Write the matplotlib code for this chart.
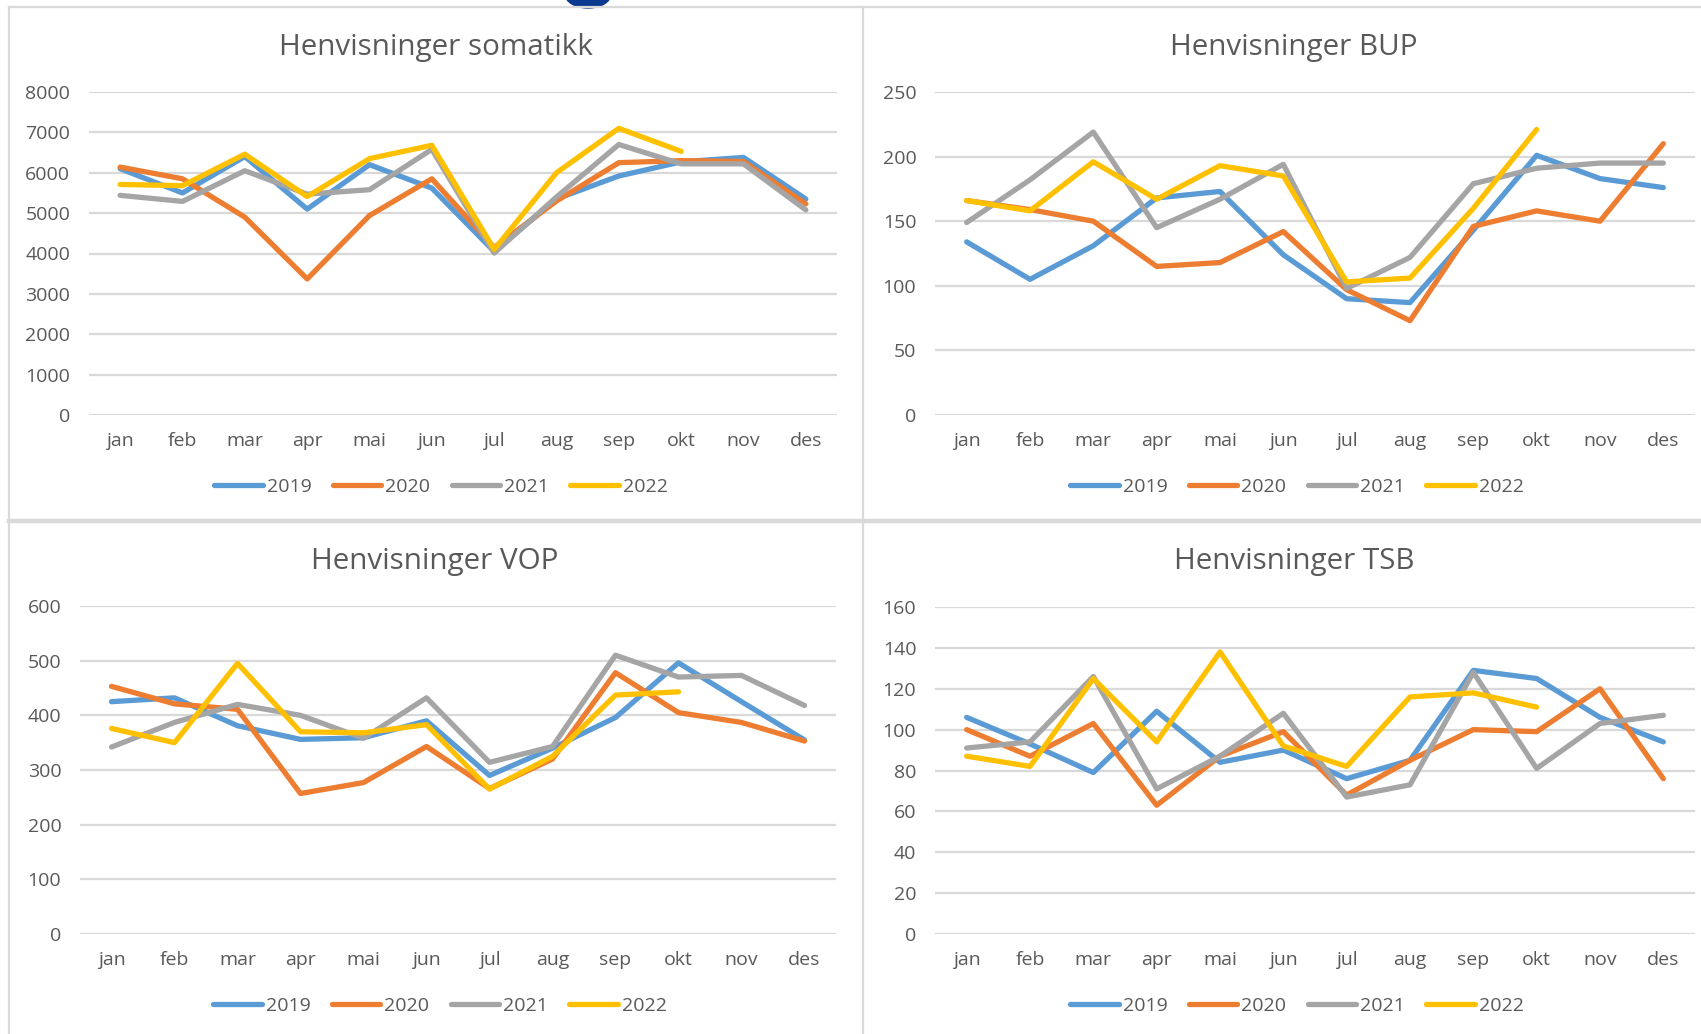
import matplotlib
matplotlib.use('Agg')
import matplotlib.pyplot as plt
from matplotlib.patches import Ellipse
from matplotlib.lines import Line2D

plt.rcParams['font.family'] = ['Open Sans', 'DejaVu Sans']

months = ['jan', 'feb', 'mar', 'apr', 'mai', 'jun', 'jul', 'aug', 'sep', 'okt', 'nov', 'des']
years = ['2019', '2020', '2021', '2022']
colors = ['#5B9BD5', '#ED7D31', '#A5A5A5', '#FFC000']

# Henvisninger somatikk
som_2019 = [6100, 5500, 6400, 5100, 6200, 5620, 4050, 5350, 5920, 6270, 6380, 5350]
som_2020 = [6140, 5850, 4900, 3370, 4940, 5850, 4150, 5300, 6250, 6300, 6280, 5230]
som_2021 = [5440, 5290, 6050, 5470, 5580, 6580, 4010, 5400, 6700, 6220, 6220, 5080]
som_2022 = [5710, 5680, 6460, 5410, 6350, 6680, 4100, 6000, 7100, 6530]

# Henvisninger BUP
bup_2019 = [134, 105, 131, 168, 173, 124, 90, 87, 143, 201, 183, 176]
bup_2020 = [166, 159, 150, 115, 118, 142, 97, 73, 146, 158, 150, 210]
bup_2021 = [149, 182, 219, 145, 167, 194, 98, 122, 179, 191, 195, 195]
bup_2022 = [166, 158, 196, 167, 193, 185, 103, 106, 160, 221]

# Henvisninger VOP
vop_2019 = [425, 432, 381, 356, 359, 390, 290, 340, 396, 496, 425, 355]
vop_2020 = [453, 421, 411, 257, 277, 343, 266, 320, 478, 405, 387, 353]
vop_2021 = [342, 387, 420, 400, 358, 432, 314, 343, 510, 470, 473, 418]
vop_2022 = [376, 350, 495, 370, 368, 383, 265, 325, 437, 443]

# Henvisninger TSB
tsb_2019 = [106, 93, 79, 109, 84, 90, 76, 85, 129, 125, 106, 94]
tsb_2020 = [100, 87, 103, 63, 87, 99, 68, 85, 100, 99, 120, 76]
tsb_2021 = [91, 94, 126, 71, 87, 108, 67, 73, 128, 81, 103, 107]
tsb_2022 = [87, 82, 125, 94, 138, 92, 82, 116, 118, 111]

W, H = 1701, 1034
fig = plt.figure(figsize=(W / 100, H / 100), dpi=100)

# background axes in pixel coords for panel borders
bg = fig.add_axes([0, 0, 1, 1], zorder=-5)
bg.set_xlim(0, W)
bg.set_ylim(H, 0)
bg.axis('off')
border = '#D9D9D9'
bg.plot([9, W], [7, 7], color=border, lw=1.6)
bg.plot([9, 9], [7, H], color=border, lw=1.6)
bg.plot([863, 863], [7, H], color=border, lw=1.6)
bg.plot([9, W], [520.5, 520.5], color=border, lw=3.2)
bg.add_patch(Ellipse((588, -6), 46, 28, color='#0B3A8F'))

text_col = '#595959'
grid_col = '#D9D9D9'
fs = 14
lw = 3.8

panels = [
    dict(title='Henvisninger somatikk', data=[som_2019, som_2020, som_2021, som_2022],
         ymax=8000, step=1000, box=(89, 92, 837, 415), tpos=(436, 47), lpos=(441, 487)),
    dict(title='Henvisninger BUP', data=[bup_2019, bup_2020, bup_2021, bup_2022],
         ymax=250, step=50, box=(935, 92, 1695, 415), tpos=(1294, 47), lpos=(1297, 487)),
    dict(title='Henvisninger VOP', data=[vop_2019, vop_2020, vop_2021, vop_2022],
         ymax=600, step=100, box=(80, 606, 836, 934), tpos=(435, 562), lpos=(440, 1006)),
    dict(title='Henvisninger TSB', data=[tsb_2019, tsb_2020, tsb_2021, tsb_2022],
         ymax=160, step=20, box=(935, 607, 1695, 934), tpos=(1294, 562), lpos=(1297, 1006)),
]

for p in panels:
    x0, y0, x1, y1 = p['box']
    ax = fig.add_axes([x0 / W, 1 - y1 / H, (x1 - x0) / W, (y1 - y0) / H])
    ax.set_facecolor('none')
    for i, (series, c, yr) in enumerate(zip(p['data'], colors, years)):
        ax.plot(months[:len(series)], series, color=c, lw=lw, label=yr,
                solid_capstyle='round', solid_joinstyle='round', zorder=3 + i)
    ax.set_xlim(-0.5, 11.5)
    ax.set_ylim(0, p['ymax'])
    ax.set_yticks(range(0, p['ymax'] + 1, p['step']))
    ax.yaxis.grid(True, color=grid_col, lw=1.6)
    ax.set_axisbelow(True)
    for s in ax.spines.values():
        s.set_visible(False)
    ax.tick_params(axis='both', length=0, labelsize=fs, labelcolor=text_col)
    ax.tick_params(axis='y', pad=13.5)
    ax.tick_params(axis='x', pad=12.5)
    fig.text(p['tpos'][0] / W, 1 - p['tpos'][1] / H, p['title'], fontsize=21.3,
             color=text_col, ha='center', va='center')
    handles = [Line2D([0], [0], color=c, lw=lw, solid_capstyle='round') for c in colors]
    ax.legend(handles, years, loc='center', ncol=4, frameon=False,
              bbox_to_anchor=(p['lpos'][0] / W, 1 - p['lpos'][1] / H),
              bbox_transform=fig.transFigure, fontsize=fs, labelcolor=text_col,
              handlelength=2.5, handletextpad=0.2, columnspacing=1.1)

fig.savefig('out.png', dpi=100, facecolor='white')
